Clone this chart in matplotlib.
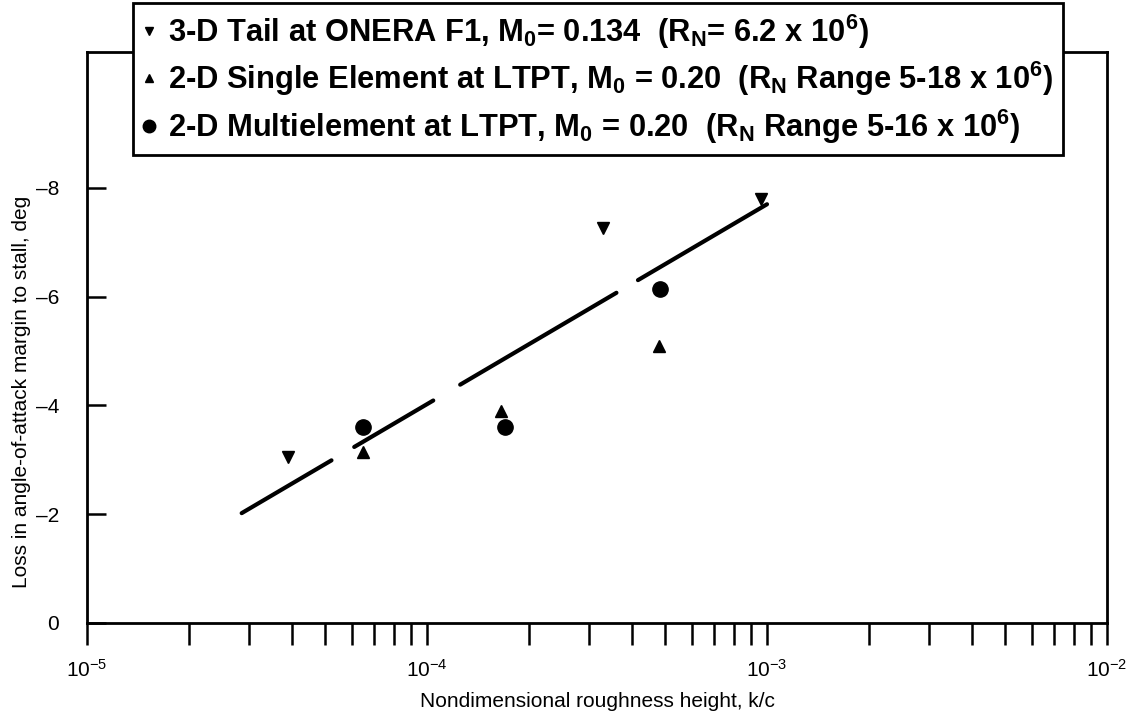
import matplotlib
matplotlib.use('Agg')
import matplotlib.pyplot as plt
from matplotlib.lines import Line2D
from matplotlib.ticker import LogLocator, NullFormatter

plt.rcParams['font.family'] = ['Liberation Sans', 'DejaVu Sans']
plt.rcParams['mathtext.fontset'] = 'custom'
plt.rcParams['mathtext.rm'] = 'Liberation Sans'
plt.rcParams['mathtext.bf'] = 'Liberation Sans:bold'
plt.rcParams['lines.scale_dashes'] = False

# данные
tail_x = [3.9e-5, 3.3e-4, 9.6e-4]
tail_y = [-3.05, -7.27, -7.8]
single_x = [6.5e-5, 1.65e-4, 4.8e-4]
single_y = [-3.15, -3.9, -5.1]
multi_x = [6.5e-5, 1.7e-4, 4.85e-4]
multi_y = [-3.6, -3.6, -6.15]
fit_x = [2.85e-5, 1.0e-3]
fit_y = [-2.02, -7.7]

labels = [
    r'3-D Tail at ONERA F1, M$_{\mathbf{0}}$= 0.134  (R$_{\mathbf{N}}$= 6.2 x 10$^{\mathbf{6}}$)',
    r'2-D Single Element at LTPT, M$_{\mathbf{0}}$ = 0.20  (R$_{\mathbf{N}}$ Range 5-18 x 10$^{\mathbf{6}}$)',
    r'2-D Multielement at LTPT, M$_{\mathbf{0}}$ = 0.20  (R$_{\mathbf{N}}$ Range 5-16 x 10$^{\mathbf{6}}$)',
]
xticks = [1e-5, 1e-4, 1e-3, 1e-2]
xticklabels = [r'$\mathrm{10^{-5}}$', r'$\mathrm{10^{-4}}$', r'$\mathrm{10^{-3}}$', r'$\mathrm{10^{-2}}$']
yticks = [0, -2, -4, -6, -8]

fig = plt.figure(figsize=(11.32, 7.12), dpi=100)
ax = fig.add_axes([0.0769, 0.125, 0.901, 0.802])

# линия аппроксимации с разрывами
ax.plot(fit_x, fit_y, color='black', lw=3.0, solid_capstyle='round', dash_capstyle='round',
        dashes=(75, 19, 66, 22.5, 130.5, 18, 125, 20))
ax.plot(tail_x, tail_y, 'v', color='black', ms=9)
ax.plot(single_x, single_y, '^', color='black', ms=9)
ax.plot(multi_x, multi_y, 'o', color='black', ms=11)

ax.set_xscale('log')
ax.set_xlim(1e-5, 1e-2)
ax.set_ylim(0, -10.5)
ax.set_xticks(xticks, xticklabels)
ax.xaxis.set_minor_locator(LogLocator(base=10, subs=range(2, 10)))
ax.xaxis.set_minor_formatter(NullFormatter())
ax.set_yticks(yticks, [str(v).replace('-', '\u2013') for v in yticks])

ax.tick_params(axis='x', which='both', direction='out', length=16, width=1.8, labelsize=15, pad=10)
ax.tick_params(axis='y', which='both', direction='in', length=14, width=1.8, labelsize=15, pad=20)
for s in ax.spines.values():
    s.set_linewidth(2)

ax.set_xlabel('Nondimensional roughness height, k/c', fontsize=15, labelpad=8)
ax.set_ylabel('Loss in angle-of-attack margin to stall, deg', fontsize=15)
ax.yaxis.set_label_coords(-0.055, 0.405)

handles = [
    Line2D([], [], ls='none', marker='v', color='black', ms=6),
    Line2D([], [], ls='none', marker='^', color='black', ms=6),
    Line2D([], [], ls='none', marker='o', color='black', ms=9),
]
leg = ax.legend(handles, labels, loc='upper left', bbox_to_anchor=(133 / 1132, 1 - 3 / 712),
                bbox_transform=fig.transFigure, prop={'weight': 'bold', 'size': 22.2},
                frameon=True, fancybox=False, framealpha=1, edgecolor='black', handlelength=0.45,
                handletextpad=0.4, labelspacing=0.3, borderpad=0.3, borderaxespad=0)
leg.get_frame().set_linewidth(2)
leg.set_zorder(10)

fig.savefig('out.png', dpi=100)
